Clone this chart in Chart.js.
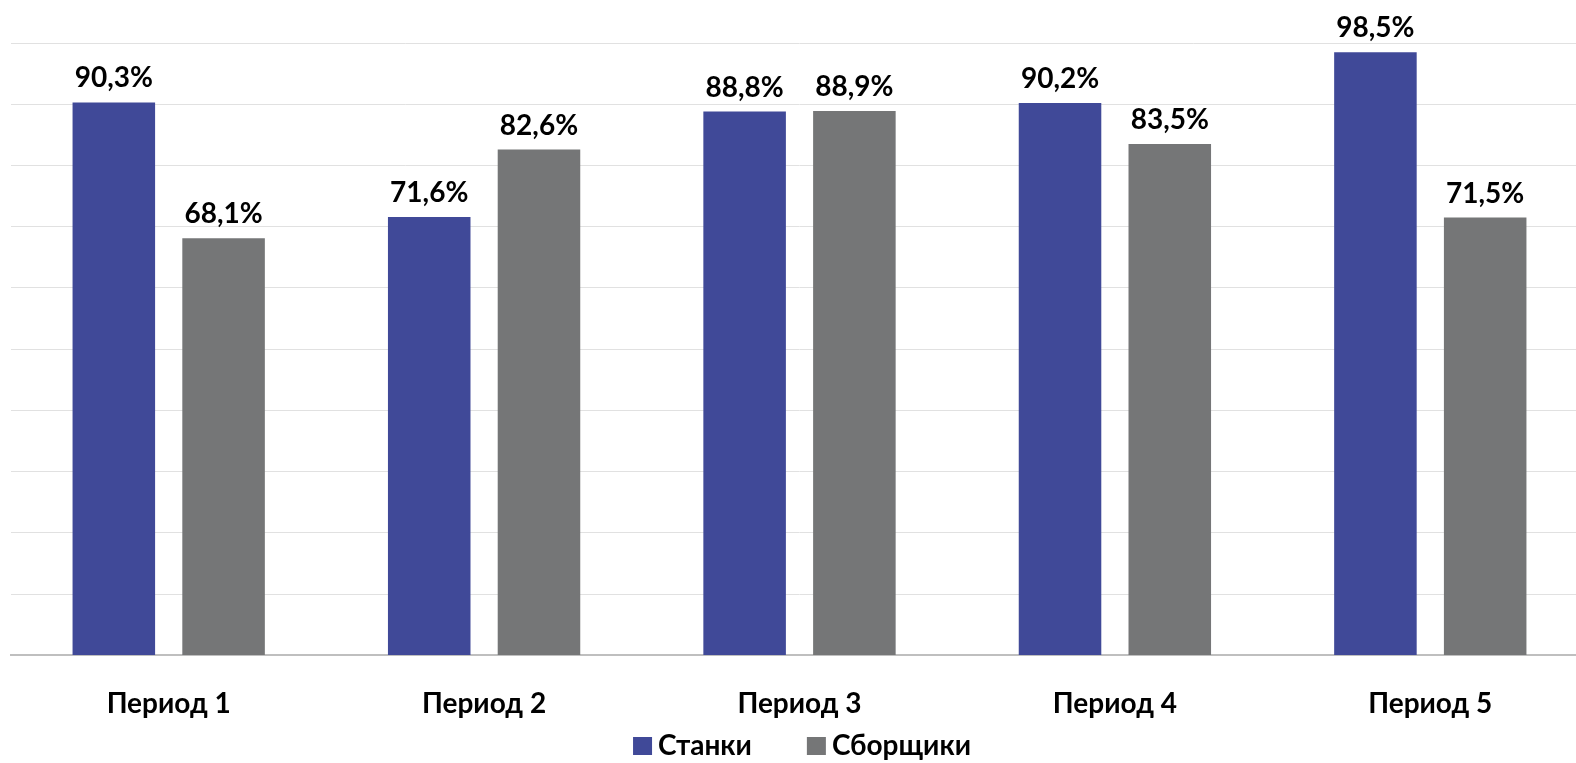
<!doctype html>
<html lang="ru">
<head>
    <meta charset="utf-8" />
    <title>Периоды</title>
    <script src="https://cdn.jsdelivr.net/npm/chart.js@4.4.0/dist/chart.umd.min.js"></script>
    <style>
        html, body { margin: 0; padding: 0; background: #fff; overflow: hidden; }
        /* the plot area in the original runs a little past the right edge */
        #wrap { width: 1588px; height: 763px; }
    </style>
</head>
<body>
    <div id="wrap">
        <canvas id="myChart"></canvas>
    </div>
    <script>
        const periods = ['Период 1', 'Период 2', 'Период 3', 'Период 4', 'Период 5'];
        const stanki = [90.3, 71.6, 88.8, 90.2, 98.5];
        const sborshchiki = [68.1, 82.6, 88.9, 83.5, 71.5];
        const seriesNames = ['Станки', 'Сборщики'];
        const seriesColors = ['#404998', '#757677'];

        const FONT = 'Lato, "Open Sans", sans-serif';

        // value labels above each bar
        const valueLabels = {
            id: 'valueLabels',
            afterDatasetsDraw(chart) {
                const ctx = chart.ctx;
                ctx.save();
                ctx.font = 'bold 28px ' + FONT;
                ctx.fillStyle = '#000';
                ctx.textAlign = 'center';
                ctx.textBaseline = 'alphabetic';
                chart.data.datasets.forEach((ds, i) => {
                    chart.getDatasetMeta(i).data.forEach((bar, j) => {
                        const txt = ds.data[j].toFixed(1).replace('.', ',') + '%';
                        ctx.fillText(txt, bar.x, bar.y - 15);
                    });
                });
                ctx.restore();
            }
        };

        // legend drawn by hand, the built-in one leaves too much space
        const bottomLegend = {
            id: 'bottomLegend',
            afterDraw(chart) {
                const ctx = chart.ctx;
                ctx.save();
                ctx.font = 'bold 28px ' + FONT;
                ctx.textBaseline = 'alphabetic';
                ctx.textAlign = 'left';
                const box = 19, gapText = 6, gapItem = 55;
                const widths = seriesNames.map(n => ctx.measureText(n).width);
                let total = 0;
                widths.forEach((w, i) => { total += box + gapText + w + (i ? gapItem : 0); });
                let x = 802 - total / 2;
                const baseline = 755;
                seriesNames.forEach((n, i) => {
                    ctx.fillStyle = seriesColors[i];
                    ctx.fillRect(x, baseline - 18, box, 18);
                    x += box + gapText;
                    ctx.fillStyle = '#000';
                    ctx.fillText(n, x, baseline);
                    x += widths[i] + gapItem;
                });
                ctx.restore();
            }
        };

        const ctx = document.getElementById('myChart').getContext('2d');
        new Chart(ctx, {
            type: 'bar',
            data: {
                labels: periods,
                datasets: [
                    { label: seriesNames[0], data: stanki, backgroundColor: seriesColors[0] },
                    { label: seriesNames[1], data: sborshchiki, backgroundColor: seriesColors[1] }
                ]
            },
            options: {
                responsive: true,
                maintainAspectRatio: false,
                animation: false,
                categoryPercentage: 0.696,
                barPercentage: 0.752,
                layout: { padding: { left: 11, right: 0, top: 43, bottom: 18 } },
                plugins: {
                    tooltip: { enabled: false },
                    legend: { display: false }
                },
                scales: {
                    x: {
                        grid: { display: false },
                        border: { color: '#bfbfbf', width: 2 },
                        ticks: {
                            color: '#000',
                            padding: 24,
                            font: { family: FONT, size: 28, weight: 'bold' }
                        }
                    },
                    y: {
                        min: 0,
                        max: 100,
                        ticks: { display: false, stepSize: 10 },
                        border: { display: false },
                        grid: { color: '#e1e1e1', lineWidth: 1, drawTicks: false }
                    }
                }
            },
            plugins: [valueLabels, bottomLegend]
        });
    </script>
</body>
</html>
